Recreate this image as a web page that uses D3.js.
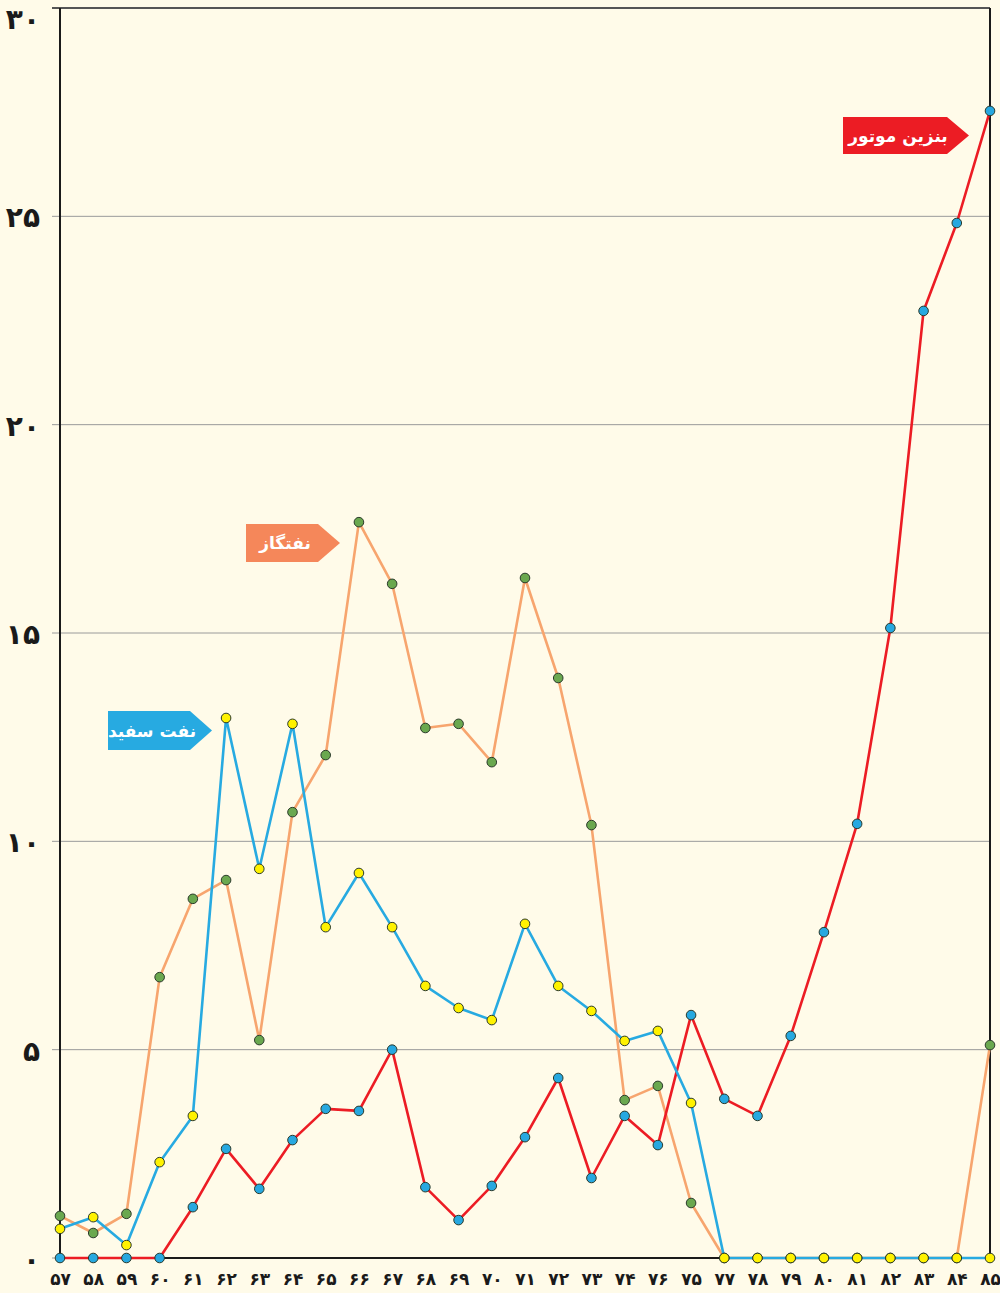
<!DOCTYPE html>
<html lang="fa">
<head>
<meta charset="utf-8">
<title>chart</title>
<script src="https://d3js.org/d3.v7.min.js"></script>
<style>
  body { margin: 0; background: #fffbe9; }
  text { font-family: "DejaVu Sans", sans-serif; }
</style>
</head>
<body>
<div id="my_dataviz"></div>
<script>

// years (x categories), as printed on the axis
var years = ["۵۷","۵۸","۵۹","۶۰","۶۱","۶۲","۶۳","۶۴","۶۵","۶۶","۶۷","۶۸","۶۹","۷۰",
             "۷۱","۷۲","۷۳","۷۴","۷۶","۷۵","۷۷","۷۸","۷۹","۸۰","۸۱","۸۲","۸۳","۸۴","۸۵"];

// benzin motor (red)
var benzin = [0, 0, 0, 0, 1.22, 2.62, 1.66, 2.83, 3.58, 3.53, 5.0, 1.70, 0.91, 1.73,
              2.90, 4.32, 1.92, 3.41, 2.71, 5.83, 3.82, 3.41, 5.33, 7.82, 10.42, 15.12, 22.73, 24.84, 27.53];

// naft sefid (blue)
var naftSefid = [0.70, 0.98, 0.31, 2.30, 3.41, 12.96, 9.34, 12.82, 7.94, 9.24, 7.94, 6.53, 6.0, 5.71,
                 8.02, 6.53, 5.93, 5.21, 5.45, 3.72, 0, 0, 0, 0, 0, 0, 0, 0, 0];

// naftgaz (orange)
var naftgaz = [1.01, 0.60, 1.06, 6.74, 8.62, 9.07, 5.23, 10.70, 12.07, 17.66, 16.18, 12.72, 12.82, 11.90,
               16.32, 13.92, 10.39, 3.79, 4.13, 1.32, 0, 0, 0, 0, 0, 0, 0, 0, 5.11];

var yTicks = [0, 5, 10, 15, 20, 25, 30];
var yTickLabels = ["۰","۵","۱۰","۱۵","۲۰","۲۵","۳۰"];

var W = 1000, H = 1293;
var plotLeft = 60, plotRight = 990, plotTop = 8, plotBottom = 1258;

var svg = d3.select("#my_dataviz")
  .append("svg")
    .attr("width", W)
    .attr("height", H);

svg.append("rect").attr("width", W).attr("height", H).attr("fill", "#fffbe9");

var x = d3.scalePoint()
  .domain(years)
  .range([plotLeft, plotRight]);

var y = d3.scaleLinear()
  .domain([0, 30])
  .range([plotBottom, plotTop]);

// grid lines
svg.append("g")
  .selectAll("line")
  .data(yTicks)
  .enter()
  .append("line")
    .attr("x1", plotLeft - 8)
    .attr("x2", plotRight)
    .attr("y1", function(d) { return y(d); })
    .attr("y2", function(d) { return y(d); })
    .attr("stroke", function(d) { return d == 30 ? "#555" : "#9a9a9a"; })
    .attr("stroke-width", function(d) { return d == 30 ? 2 : 1; });

// frame: left axis, right border, bottom axis
svg.append("line").attr("x1", plotLeft).attr("x2", plotLeft).attr("y1", plotTop).attr("y2", plotBottom)
  .attr("stroke", "#1a1a1a").attr("stroke-width", 2);
svg.append("line").attr("x1", plotRight).attr("x2", plotRight).attr("y1", plotTop).attr("y2", plotBottom)
  .attr("stroke", "#1a1a1a").attr("stroke-width", 2);
svg.append("line").attr("x1", plotLeft).attr("x2", plotRight).attr("y1", plotBottom).attr("y2", plotBottom)
  .attr("stroke", "#1a1a1a").attr("stroke-width", 2);

// y axis labels
var yAxis = svg.append("g")
  .attr("transform", "translate(" + (plotLeft - 8) + ",0)")
  .call(d3.axisLeft(y).tickValues(yTicks).tickSize(0).tickPadding(12)
        .tickFormat(function(d, i) { return yTickLabels[i]; }));
yAxis.select(".domain").remove();
yAxis.selectAll("text")
  .attr("dy", function(d) { return d == 30 ? "0.72em" : "0.38em"; })
  .style("font-size", "28px")
  .style("font-weight", "bold")
  .attr("fill", "#1a1a1a");

// x axis labels
var xAxis = svg.append("g")
  .attr("transform", "translate(0," + plotBottom + ")")
  .call(d3.axisBottom(x).tickSize(0).tickPadding(15));
xAxis.select(".domain").remove();
xAxis.selectAll("text")
  .style("font-size", "17px")
  .style("font-weight", "bold")
  .attr("fill", "#1a1a1a");

var line = d3.line()
  .x(function(d, i) { return x(years[i]); })
  .y(function(d) { return y(d); });

function drawLine(data, color) {
  svg.append("path")
    .datum(data)
    .attr("fill", "none")
    .attr("stroke", color)
    .attr("stroke-width", 2.6)
    .attr("stroke-linejoin", "round")
    .attr("d", line);
}

function drawDots(data, color) {
  svg.append("g")
    .selectAll("circle")
    .data(data)
    .enter()
    .append("circle")
      .attr("cx", function(d, i) { return x(years[i]); })
      .attr("cy", function(d) { return y(d); })
      .attr("r", 4.8)
      .attr("fill", color)
      .attr("stroke", "#2b3a2b")
      .attr("stroke-width", 1);
}

drawLine(naftgaz, "#f7a56e");
drawLine(benzin, "#ec1c24");
drawLine(naftSefid, "#27aae1");

drawDots(naftgaz, "#6aa84f");
drawDots(benzin, "#27a8e0");
drawDots(naftSefid, "#fff200");

// series tags (box with arrow)
function tag(x0, y0, w, h, color, label) {
  var tip = 22;
  svg.append("path")
    .attr("d", "M" + x0 + "," + y0 + "H" + (x0 + w) + "L" + (x0 + w + tip) + "," + (y0 + h / 2) +
               "L" + (x0 + w) + "," + (y0 + h) + "H" + x0 + "Z")
    .attr("fill", color);
  svg.append("text")
    .attr("x", x0 + (w + 6) / 2)
    .attr("y", y0 + h / 2 + 1)
    .attr("text-anchor", "middle")
    .attr("dominant-baseline", "middle")
    .attr("direction", "rtl")
    .style("font-size", "17px")
    .style("font-weight", "bold")
    .attr("fill", "#fff")
    .text(label);
}

tag(843, 117, 104, 37, "#ec1c24", "بنزین موتور");
tag(246, 524, 72, 38, "#f5875a", "نفتگاز");
tag(108, 711, 82, 39, "#27aae1", "نفت سفید");

</script>
</body>
</html>
